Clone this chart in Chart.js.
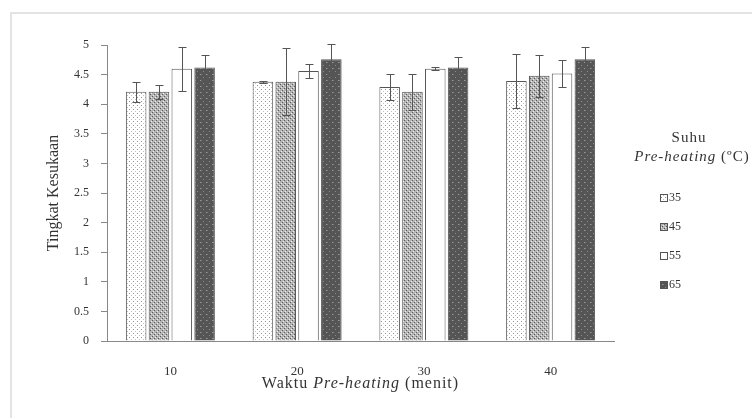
<!DOCTYPE html>
<html>
<head>
<meta charset="utf-8">
<script src="https://cdn.jsdelivr.net/npm/chart.js@4"></script>
<style>
  html, body { margin: 0; padding: 0; background: #fff; }
  #wrap { width: 752px; height: 418px; }
</style>
</head>
<body>
<div id="wrap"><canvas id="chart" width="752" height="418"></canvas></div>
<script>
const categories = ["10", "20", "30", "40"];
const seriesLabels = ["35", "45", "55", "65"];
const values35 = [4.21, 4.38, 4.29, 4.39];
const values45 = [4.21, 4.38, 4.21, 4.48];
const values55 = [4.60, 4.56, 4.60, 4.52];
const values65 = [4.62, 4.76, 4.62, 4.76];
const err35 = [0.17, 0.02, 0.22, 0.45];
const err45 = [0.12, 0.57, 0.30, 0.35];
const err55 = [0.37, 0.12, 0.02, 0.23];
const err65 = [0.21, 0.25, 0.17, 0.21];
const yMin = 0;
const yMax = 5;
const yStep = 0.5;

const serif = "'Liberation Serif', 'DejaVu Serif', serif";

function makePattern(size, bg, dots) {
  const c = document.createElement("canvas");
  c.width = size;
  c.height = size;
  const g = c.getContext("2d");
  g.fillStyle = bg;
  g.fillRect(0, 0, size, size);
  dots.forEach(d => {
    g.fillStyle = d[2];
    g.fillRect(d[0], d[1], 1, 1);
  });
  return g.createPattern(c, "repeat");
}

const ctx = document.getElementById("chart").getContext("2d");

const fills = [
  makePattern(4, "#ffffff", [[1, 1, "#909090"], [3, 3, "#c0c0c0"]]),
  makePattern(4, "#b4b4b4", [[0, 0, "#5a5a5a"], [2, 2, "#5a5a5a"], [1, 3, "#eeeeee"], [3, 1, "#eeeeee"]]),
  "#ffffff",
  makePattern(6, "#555555", [[2, 2, "#9a9a9a"], [5, 5, "#8a8a8a"], [3, 2, "#777777"]])
];

const allValues = [values35, values45, values55, values65];
const allErrors = [err35, err45, err55, err65];

const errorBars = {
  id: "errorBars",
  afterDatasetsDraw(chart) {
    const y = chart.scales.y;
    const c = chart.ctx;
    c.save();
    c.strokeStyle = "#555";
    c.lineWidth = 1;
    chart.data.datasets.forEach((ds, di) => {
      const meta = chart.getDatasetMeta(di);
      meta.data.forEach((bar, i) => {
        const v = ds.data[i];
        const e = allErrors[di][i];
        const x = Math.round(bar.x) + 0.5;
        const top = Math.round(y.getPixelForValue(v + e)) + 0.5;
        const bot = Math.round(y.getPixelForValue(v - e)) + 0.5;
        c.beginPath();
        c.moveTo(x, top);
        c.lineTo(x, bot);
        c.moveTo(x - 4, top);
        c.lineTo(x + 4, top);
        c.moveTo(x - 4, bot);
        c.lineTo(x + 4, bot);
        c.stroke();
      });
    });
    c.restore();
  }
};

function drawMixed(c, parts, cx, cy, spacing) {
  c.letterSpacing = spacing || "0px";
  let total = 0;
  parts.forEach(p => {
    c.font = p[1];
    total += c.measureText(p[0]).width;
  });
  let x = cx - total / 2;
  parts.forEach(p => {
    c.font = p[1];
    c.fillText(p[0], x, cy);
    x += c.measureText(p[0]).width;
  });
  c.letterSpacing = "0px";
}

const extras = {
  id: "extras",
  beforeDraw(chart) {
    const c = chart.ctx;
    c.save();
    c.strokeStyle = "#e3e3e3";
    c.lineWidth = 2;
    c.strokeRect(11, 13, 800, 500);
    c.restore();
  },
  afterDraw(chart) {
    const c = chart.ctx;
    const area = chart.chartArea;
    c.save();
    c.fillStyle = "#333";
    c.textBaseline = "middle";
    c.textAlign = "left";
    drawMixed(c, [
      ["Waktu ", "16px " + serif],
      ["Pre-heating", "italic 16px " + serif],
      [" (menit)", "16px " + serif]
    ], (area.left + area.right) / 2, 384, "1px");

    // legend
    drawMixed(c, [["Suhu", "15px " + serif]], 689, 138, "1px");
    drawMixed(c, [
      ["Pre-heating", "italic 15px " + serif],
      [" (\u00baC)", "15px " + serif]
    ], 692, 157, "1px");
    const rows = [198, 227, 256, 285];
    chart.data.datasets.forEach((ds, i) => {
      c.fillStyle = ds.backgroundColor;
      c.fillRect(660, rows[i] - 4, 7, 7);
      c.strokeStyle = "#555";
      c.lineWidth = 1;
      c.strokeRect(660.5, rows[i] - 3.5, 7, 7);
      c.fillStyle = "#333";
      c.font = "12px " + serif;
      c.fillText(ds.label, 669, rows[i]);
    });
    c.restore();
  }
};

new Chart(ctx, {
  type: "bar",
  data: {
    labels: categories,
    datasets: seriesLabels.map((label, i) => ({
      label: label,
      data: allValues[i],
      backgroundColor: fills[i],
      borderColor: "#555",
      borderWidth: 1,
      categoryPercentage: 0.72,
      barPercentage: 0.9
    }))
  },
  options: {
    responsive: false,
    animation: false,
    layout: {
      padding: { left: 41, top: 45, right: 138, bottom: 0 }
    },
    plugins: {
      legend: { display: false },
      tooltip: { enabled: false }
    },
    scales: {
      x: {
        grid: { display: false },
        border: { display: true, color: "#888", width: 1 },
        ticks: {
          color: "#333",
          padding: 15,
          font: { family: serif, size: 13 }
        },
        afterFit(scale) { scale.height = 77; }
      },
      y: {
        min: yMin,
        max: yMax,
        grid: {
          drawOnChartArea: false,
          drawTicks: true,
          tickLength: 6,
          color: "#888"
        },
        border: { display: true, color: "#888", width: 1 },
        ticks: {
          stepSize: yStep,
          color: "#333",
          padding: 12,
          font: { family: serif, size: 12 },
          callback: v => String(v)
        },
        title: {
          display: true,
          text: "Tingkat Kesukaan",
          color: "#333",
          padding: { top: 3, bottom: 0 },
          font: { family: serif, size: 16 }
        },
        afterFit(scale) { scale.width = 66; }
      }
    }
  },
  plugins: [errorBars, extras]
});
</script>
</body>
</html>
